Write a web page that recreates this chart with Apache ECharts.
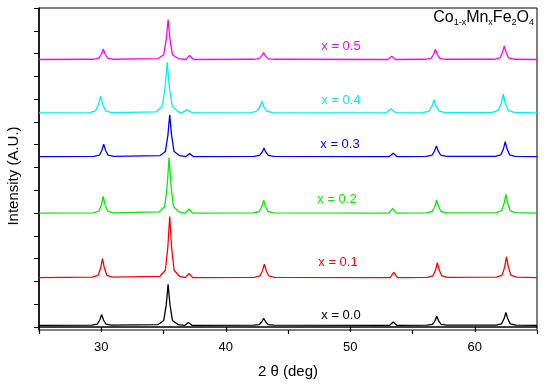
<!DOCTYPE html>
<html><head><meta charset="utf-8">
<script src="https://cdn.jsdelivr.net/npm/echarts@6/dist/echarts.min.js"></script>
<style>html,body{margin:0;padding:0;background:#fff}#c{width:550px;height:384px}</style>
</head><body><div id="c"></div>
<script>
// Composition labels and vertical offsets (A.U.) of each stacked pattern
const seriesNames = ['x = 0.0', 'x = 0.1', 'x = 0.2', 'x = 0.3', 'x = 0.4', 'x = 0.5'];
const seriesColors = ['#000000', '#ff0000', '#00ee00', '#0000ff', '#00eeee', '#ff00ff'];
const offsets = [0.07, 2.17, 5.0, 7.48, 9.40, 11.74];
const xTicks = [30, 40, 50, 60];
const xMinorTicks = [25, 35, 45, 55, 65];

// Patterns: [2theta, intensity above own baseline]
const pat00 = [[25,0],
 [29.23,0.01],[29.68,0.06],[29.88,0.24],[30.03,0.48],[30.18,0.24],[30.38,0.06],[30.83,0.01],
 [34.57,0.04],[35.02,0.22],[35.22,0.9],[35.37,1.80],[35.52,0.9],[35.72,0.22],[36.17,0.04],
 [36.7,0],[37.0,0.13],[37.3,0],
 [42.25,0.01],[42.7,0.04],[42.9,0.16],[43.05,0.31],[43.2,0.16],[43.4,0.04],[43.85,0.01],
 [53.15,0],[53.45,0.15],[53.75,0],
 [56.15,0.01],[56.6,0.05],[56.8,0.2],[56.95,0.40],[57.1,0.2],[57.3,0.05],[57.75,0.01],
 [61.7,0.01],[62.15,0.07],[62.35,0.29],[62.5,0.57],[62.65,0.29],[62.85,0.07],[63.3,0.01],
 [65,0]];
const pat01 = [[25,0],
 [29.3,0.02],[29.75,0.1],[29.95,0.42],[30.1,0.83],[30.25,0.42],[30.45,0.1],[30.9,0.02],
 [34.7,0.05],[35.15,0.32],[35.35,1.34],[35.5,2.68],[35.65,1.34],[35.85,0.32],[36.3,0.05],
 [36.75,0],[37.05,0.18],[37.35,0],
 [42.3,0.01],[42.75,0.07],[42.95,0.3],[43.1,0.59],[43.25,0.3],[43.45,0.07],[43.9,0.01],
 [53.2,0],[53.5,0.23],[53.8,0],
 [56.2,0.01],[56.65,0.08],[56.85,0.33],[57.0,0.66],[57.15,0.33],[57.35,0.08],[57.8,0.01],
 [61.75,0.02],[62.2,0.11],[62.4,0.46],[62.55,0.92],[62.7,0.46],[62.9,0.11],[63.35,0.02],
 [65,0]];
const pat02 = [[25,0],
 [29.36,0.01],[29.81,0.09],[30.01,0.37],[30.16,0.73],[30.31,0.37],[30.51,0.09],[30.96,0.01],
 [34.65,0.05],[35.1,0.29],[35.3,1.22],[35.45,2.44],[35.6,1.22],[35.8,0.29],[36.25,0.05],
 [36.75,0],[37.05,0.18],[37.35,0],
 [42.25,0.01],[42.7,0.07],[42.9,0.29],[43.05,0.57],[43.2,0.29],[43.4,0.07],[43.85,0.01],
 [53.11,0],[53.41,0.21],[53.71,0],
 [56.14,0.01],[56.59,0.07],[56.79,0.29],[56.94,0.57],[57.09,0.29],[57.29,0.07],[57.74,0.01],
 [61.7,0.02],[62.15,0.1],[62.35,0.41],[62.5,0.82],[62.65,0.41],[62.85,0.1],[63.3,0.02],
 [65,0]];
const pat03 = [[25,0],
 [29.4,0.01],[29.85,0.06],[30.05,0.27],[30.2,0.54],[30.35,0.27],[30.55,0.06],[31.0,0.01],
 [34.7,0.04],[35.15,0.22],[35.35,0.92],[35.5,1.83],[35.65,0.92],[35.85,0.22],[36.3,0.04],
 [36.8,0],[37.1,0.13],[37.4,0],
 [42.27,0.01],[42.72,0.05],[42.92,0.19],[43.07,0.38],[43.22,0.19],[43.42,0.05],[43.87,0.01],
 [53.15,0],[53.45,0.15],[53.75,0],
 [56.12,0.01],[56.57,0.06],[56.77,0.24],[56.92,0.47],[57.07,0.24],[57.27,0.06],[57.72,0.01],
 [61.65,0.01],[62.1,0.08],[62.3,0.33],[62.45,0.66],[62.6,0.33],[62.8,0.08],[63.25,0.01],
 [65,0]];
const pat04 = [[25,0],
 [29.05,0.01],[29.55,0.09],[29.78,0.37],[29.95,0.73],[30.12,0.37],[30.35,0.09],[30.85,0.01],
 [34.4,0.04],[34.9,0.29],[35.13,1.11],[35.3,2.22],[35.47,1.11],[35.7,0.29],[36.2,0.04],
 [36.45,0],[36.9,0.13],[37.35,0],
 [42.0,0.01],[42.5,0.07],[42.73,0.26],[42.9,0.51],[43.07,0.26],[43.3,0.07],[43.8,0.01],
 [52.9,0],[53.28,0.18],[53.66,0],
 [55.83,0.01],[56.33,0.07],[56.56,0.28],[56.73,0.56],[56.9,0.28],[57.13,0.07],[57.63,0.01],
 [61.39,0.02],[61.89,0.11],[62.12,0.41],[62.29,0.82],[62.46,0.41],[62.69,0.11],[63.19,0.02],
 [65,0]];
const pat05 = [[25,0],
 [29.36,0.01],[29.81,0.06],[30.01,0.23],[30.16,0.46],[30.31,0.23],[30.51,0.06],[30.96,0.01],
 [34.57,0.04],[35.02,0.21],[35.22,0.88],[35.37,1.75],[35.52,0.88],[35.72,0.21],[36.17,0.04],
 [36.8,0],[37.1,0.18],[37.4,0],
 [42.24,0.01],[42.69,0.04],[42.89,0.16],[43.04,0.31],[43.19,0.16],[43.39,0.04],[43.84,0.01],
 [53.03,0],[53.33,0.14],[53.63,0],
 [56.04,0.01],[56.49,0.05],[56.69,0.22],[56.84,0.44],[56.99,0.22],[57.19,0.05],[57.64,0.01],
 [61.57,0.01],[62.02,0.07],[62.22,0.3],[62.37,0.6],[62.52,0.3],[62.72,0.07],[63.17,0.01],
 [65,0]];
const patterns = [pat00, pat01, pat02, pat03, pat04, pat05];

const yTickValues = [0,1,2,3,4,5,6,7,8,9,10,11,12,13,14];
const labelPos = [[341,315],[338,262],[337,199],[340,144],[341,100],[341,46]];

const chart = echarts.init(document.getElementById('c'), null, {renderer:'canvas'});
const series = patterns.map((p, i) => ({
  name: seriesNames[i], type: 'line', showSymbol: false, symbol: 'none',
  data: p.map(d => [d[0], d[1] + offsets[i]]),
  lineStyle: {color: seriesColors[i], width: 1.3},
  itemStyle: {color: seriesColors[i]},
  animation: false, z: 3
}));
const font = 'Arial, "Liberation Sans", sans-serif';
chart.setOption({
  animation: false,
  grid: {left: 39, right: 13, top: 8, bottom: 54, show: true, borderColor: '#000', borderWidth: 1,
         containLabel: false, outerBoundsMode: 'none'},
  xAxis: [{
    type: 'value', min: 25, max: 65,
    name: '2 θ (deg)', nameLocation: 'middle', nameGap: 34,
    nameTextStyle: {fontFamily: font, fontSize: 15, color: '#000'},
    axisLine: {lineStyle: {color: '#000', width: 1.5}},
    axisTick: {inside: false, length: 5, customValues: xTicks, lineStyle: {color: '#000', width: 1.2}},
    axisLabel: {fontFamily: font, fontSize: 13, color: '#000', margin: 11, customValues: xTicks},
    splitLine: {show: false}
  }, {
    type: 'value', min: 25, max: 65, position: 'bottom', offset: 0,
    axisLine: {show: false},
    axisTick: {inside: false, length: 4, customValues: xMinorTicks, lineStyle: {color: '#000', width: 1.2}},
    axisLabel: {show: false},
    splitLine: {show: false}
  }],
  yAxis: {
    type: 'value', min: -0.13, max: 14,
    axisLine: {lineStyle: {color: '#000', width: 1.5}},
    axisTick: {inside: false, length: 5, customValues: yTickValues, lineStyle: {color: '#000', width: 1}},
    axisLabel: {show: false},
    splitLine: {show: false}
  },
  series: series,
  graphic: labelPos.map((pos, i) => ({
    type: 'text', x: pos[0], y: pos[1],
    style: {text: seriesNames[i], fill: seriesColors[i], font: '13px ' + font, align: 'center', verticalAlign: 'middle'}
  })).concat([{
    type: 'text', right: 16, top: 10,
    style: {
      text: 'Co{s|1-x}Mn{s|x}Fe{s|2}O{s|4}',
      font: '16px ' + font, fill: '#000',
      rich: {s: {fontSize: 9, fontFamily: font, fill: '#000', padding: [10, 0, 0, 0]}}
    }
  }, {
    type: 'text', x: 14, y: 176, rotation: Math.PI / 2,
    style: {text: 'Intensity (A.U.)', font: '15px ' + font, fill: '#000', align: 'center', verticalAlign: 'middle'}
  }])
});
</script></body></html>
